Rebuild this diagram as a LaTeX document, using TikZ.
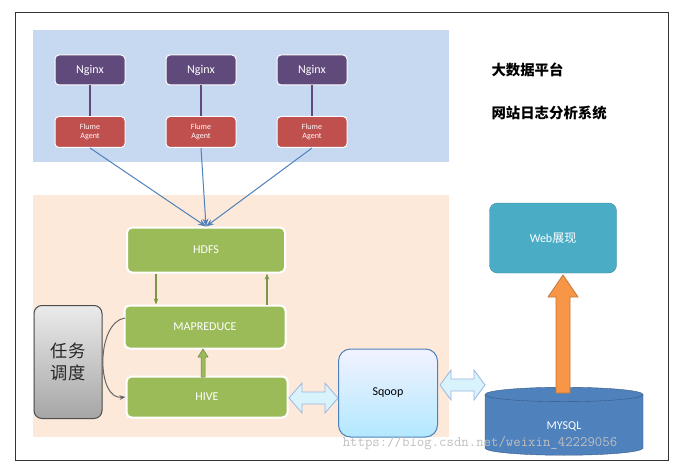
\documentclass[tikz,border=0pt]{standalone}
\usepackage{fontspec}
\setmainfont{Carlito}
\newfontfamily\cjk{Noto Sans CJK SC}
\usetikzlibrary{shapes.geometric,shapes.arrows,arrows.meta}
\definecolor{bgblue}{HTML}{C6D9F1}
\definecolor{bgpeach}{HTML}{FDE9D9}
\definecolor{ngxc}{HTML}{604A7B}
\definecolor{flmc}{HTML}{C0504D}
\definecolor{grn}{HTML}{9BBB59}
\definecolor{lnblue}{HTML}{4F81BD}
\definecolor{webc}{HTML}{4BACC6}
\definecolor{orng}{HTML}{F79646}
\begin{document}
\begin{tikzpicture}[x=1pt,y=-1pt,
 box/.style={rounded corners=4pt,minimum width=70pt,minimum height=30pt,text=white},
 ngx/.style={box,fill=ngxc,draw=white,line width=1pt,font=\large},
 flm/.style={box,fill=flmc,draw=white,line width=1pt,font=\footnotesize,align=center,minimum height=31pt,inner sep=1pt},
 gbox/.style={rounded corners=5pt,fill=grn,draw=white,line width=2pt,text=white,font=\large},
 garr/.style={draw=grn!80!black,line width=1.5pt,-{Stealth[length=6pt]}},
 barr/.style={draw=lnblue,line width=1pt,-{Stealth[length=8pt]}},
 darr/.style={draw=cyan!50!blue!40,fill=cyan!15,line width=0.8pt}]
\useasboundingbox (0,0) rectangle (679,465);
\fill[white] (0,0) rectangle (679,465);
\draw[black!80,line width=1pt] (15,13) rectangle (668,460);
\fill[bgblue] (33,30) rectangle (449,162);
\fill[bgpeach] (33,195) rectangle (449,437);
\node[font=\cjk\bfseries\Large,anchor=west] (t1) at (488,70) {大数据平台};
\node[font=\cjk\bfseries\Large,anchor=west] (t2) at (488,113) {网站日志分析系统};
\foreach \i/\x in {1/90,2/201,3/312}{
 \node[ngx] (n\i) at (\x,70) {Nginx};
 \node[flm] (f\i) at (\x,132) {Flume\\Agent};
 \draw[ngxc,line width=1.5pt] (n\i) -- (f\i);
}
\node[gbox,minimum width=158pt,minimum height=45pt] (hdfs) at (206,250) {HDFS};
\node[gbox,minimum width=161pt,minimum height=43pt] (mr) at (205,327) {MAPREDUCE};
\node[gbox,minimum width=161pt,minimum height=41pt] (hive) at (207,397) {HIVE};
\coordinate (c1) at (156,0); \coordinate (c2) at (267,0);
\foreach \i in {1,2,3} \draw[barr] (f\i.south) -- (hdfs.north);
\draw[garr] (c1 |- hdfs.south) -- (c1 |- mr.north);
\draw[garr] (c2 |- mr.north) -- (c2 |- hdfs.south);
\draw[draw=grn!70!black,fill=grn,line width=0.5pt] (201,377) -- (201,357) -- (198,357) -- (203,349) -- (208,357) -- (205,357) -- (205,377) -- cycle;
\node[rounded corners=8pt,draw=black!70,line width=1pt,minimum width=68pt,minimum height=113pt,top color=black!8,bottom color=black!35,font=\cjk\LARGE,align=center,text=black!85] (task) at (68,362) {任务\\调度};
\draw[black!60,line width=1pt,-{Stealth[length=6pt]}] (125,318) .. controls (96,322) and (96,400) .. (hive.west);
\node[rounded corners=12pt,draw=lnblue,line width=1pt,minimum width=99pt,minimum height=88pt,top color=blue!5,bottom color=blue!30!cyan!30,font=\large] (sq) at (388,393) {Sqoop};
\draw[darr] (289,398) -- (302,383) -- (302,392) -- (325,392) -- (325,383) -- (338,398) -- (325,413) -- (325,404) -- (302,404) -- (302,413) -- cycle;
\draw[darr] (440,385) -- (451,370) -- (451,379) -- (474,379) -- (474,370) -- (485,385) -- (474,400) -- (474,391) -- (451,391) -- (451,400) -- cycle;
\node[cylinder,shape border rotate=90,aspect=0.35,draw=lnblue!70!black,fill=lnblue,minimum width=158pt,minimum height=68pt,text=white,font=\large] (db) at (564,426) {MYSQL};
\node[rounded corners=8pt,fill=webc,draw=webc!80!black,minimum width=127pt,minimum height=70pt,text=white,font=\large] (web) at (553,238) {Web{\cjk 展现}};
\draw[draw=orng!80!black,fill=orng,line width=0.8pt] (556,393) -- (556,297) -- (548,297) -- (563,275) -- (578,297) -- (570,297) -- (570,393) -- cycle;
\node[text=black!25,font=\ttfamily\Large] (wm) at (480,443) {https://blog.csdn.net/weixin\_42229056};
\end{tikzpicture}
\end{document}
